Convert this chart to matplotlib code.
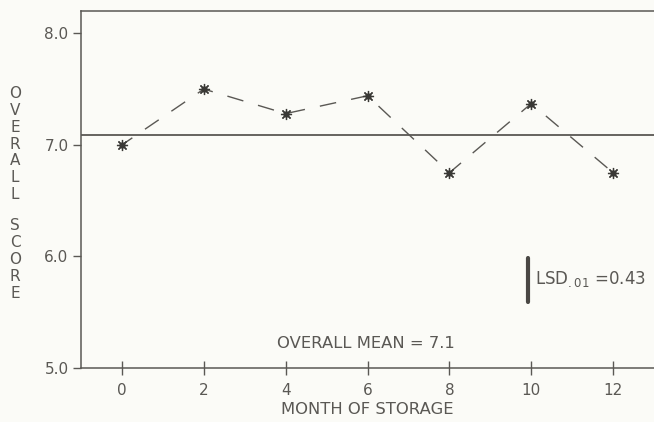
import matplotlib
matplotlib.use('Agg')
import matplotlib.pyplot as plt

# ── Data ──────────────────────────────────────────────────────────────────────
MONTHS = [0, 2, 4, 6, 8, 10, 12]
SCORES = [7.00, 7.50, 7.28, 7.44, 6.75, 7.37, 6.75]
OVERALL_MEAN = 7.09
LSD_BAR = (5.59, 5.99)   # drawn at month ~9.9
LSD_X = 9.93

Y_TICKS = [5.0, 6.0, 7.0, 8.0]
X_TICKS = MONTHS

INK = '#5a5854'
BG = '#fbfbf7'
FS = 11

plt.rcParams['font.family'] = ['DejaVu Sans']

fig = plt.figure(figsize=(6.54, 4.22), dpi=100, facecolor=BG)
ax = fig.add_axes([0.124, 0.128, 0.876, 0.846], facecolor=BG)

ax.plot(MONTHS, SCORES, linestyle=(3, (12, 11)), color=INK, lw=1.0, zorder=2)
ax.plot(MONTHS, SCORES, linestyle='none', marker=(8, 2, 0), markersize=8,
        markeredgewidth=0.9, color='#3a3936', zorder=3)
ax.plot(MONTHS, SCORES, linestyle='none', marker='o', markersize=3.5,
        color='#3a3936', zorder=3)

ax.axhline(OVERALL_MEAN, color=INK, lw=1.3, zorder=1)
ax.plot([LSD_X, LSD_X], LSD_BAR, color='#4a4744', lw=3, solid_capstyle='round')

ax.text(LSD_X + 0.17, 5.80, r'LSD$_{.01}$ =0.43', fontsize=FS + 1,
        color=INK, va='center', ha='left')
ax.text(5.95, 5.22, 'OVERALL MEAN = 7.1', fontsize=FS + 0.8, color=INK,
        ha='center', va='center')

ax.set_xlim(-1, 13)
ax.set_ylim(5.0, 8.2)
ax.set_xticks(X_TICKS)
ax.set_yticks(Y_TICKS)
ax.set_yticklabels([f'{v:.1f}' for v in Y_TICKS])
ax.tick_params(axis='x', direction='inout', length=10, width=1, colors=INK,
               labelsize=FS, pad=6)
ax.tick_params(axis='y', direction='out', length=6, width=1, colors=INK,
               labelsize=FS, pad=3)

for side in ('left', 'bottom', 'top'):
    ax.spines[side].set_color(INK)
    ax.spines[side].set_linewidth(1.1)
ax.spines['right'].set_visible(False)

ax.set_xlabel('MONTH OF STORAGE', fontsize=FS + 0.8, color=INK, labelpad=3)

# stacked vertical y label
for i, ch in enumerate('OVERALL'):
    fig.text(15 / 654, 1 - (94 + i * 16.7) / 422, ch, fontsize=FS,
             color=INK, ha='center', va='center')
for i, ch in enumerate('SCORE'):
    fig.text(15 / 654, 1 - (225 + i * 17.2) / 422, ch, fontsize=FS,
             color=INK, ha='center', va='center')

fig.savefig('out.png', dpi=100, facecolor=BG)
